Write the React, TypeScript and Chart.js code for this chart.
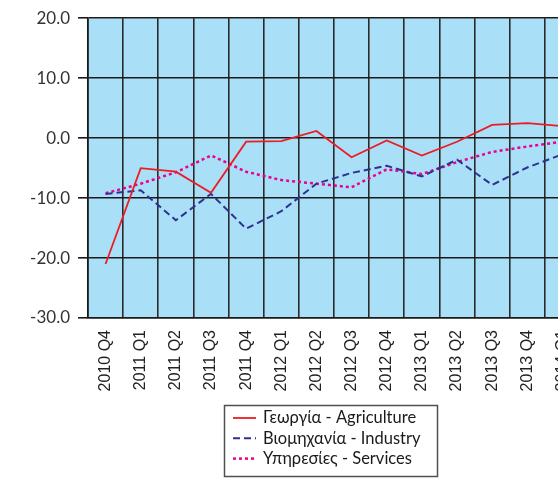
import React, { useEffect, useRef } from "react";
import { Chart, registerables } from "chart.js";

Chart.register(...registerables);

const categories = [
  "2010 Q4", "2011 Q1", "2011 Q2", "2011 Q3", "2011 Q4", "2012 Q1", "2012 Q2",
  "2012 Q3", "2012 Q4", "2013 Q1", "2013 Q2", "2013 Q3", "2013 Q4", "2014 Q1",
];
const agriculture = [-21.0, -5.0, -5.6, -9.1, -0.6, -0.5, 1.2, -3.2, -0.4, -2.9, -0.6, 2.2, 2.5, 2.0];
const industry = [-9.3, -8.7, -13.7, -9.3, -15.1, -12.2, -7.6, -5.8, -4.6, -6.4, -3.6, -7.8, -4.9, -2.7];
const services = [-9.2, -7.6, -5.7, -2.9, -5.6, -7.0, -7.6, -8.2, -5.2, -6.0, -4.0, -2.3, -1.4, -0.6];
const seriesLabels = ["Γεωργία - Agriculture", "Βιομηχανία - Industry", "Υπηρεσίες - Services"];

const CANVAS_W = 600;
const CANVAS_H = 479;

const bgPlugin = {
  id: "plotBg",
  beforeDraw(chart: any) {
    const { ctx, chartArea } = chart;
    ctx.save();
    ctx.fillStyle = "#aadff8";
    ctx.fillRect(chartArea.left, chartArea.top, chartArea.right - chartArea.left, chartArea.bottom - chartArea.top);
    ctx.restore();
  },
};

const legendPlugin = {
  id: "boxLegend",
  afterDraw(chart: any) {
    const { ctx } = chart;
    const boxX = 224.5, boxY = 405.5, boxW = 213, boxH = 71;
    ctx.save();
    ctx.strokeStyle = "#505050";
    ctx.lineWidth = 1.5;
    ctx.setLineDash([]);
    ctx.strokeRect(boxX, boxY, boxW, boxH);
    const rowY0 = 418;
    const rowGap = 20.3;
    chart.data.datasets.forEach((ds: any, i: number) => {
      const y = rowY0 + i * rowGap;
      ctx.beginPath();
      ctx.strokeStyle = ds.borderColor;
      ctx.lineWidth = ds.borderWidth;
      ctx.setLineDash(ds.borderDash || []);
      ctx.moveTo(233, y);
      ctx.lineTo(256, y);
      ctx.stroke();
      ctx.setLineDash([]);
      ctx.fillStyle = "#1a1a1a";
      ctx.font = "16.5px Lato";
      ctx.textBaseline = "middle";
      ctx.textAlign = "left";
      ctx.fillText(ds.label, 263, y);
    });
    ctx.restore();
  },
};

export default function App() {
  const ref = useRef<HTMLCanvasElement>(null);
  useEffect(() => {
    if (!ref.current) return;
    const chart = new Chart(ref.current, {
      type: "line",
      data: {
        labels: categories,
        datasets: [
          { label: seriesLabels[0], data: agriculture, borderColor: "#ed1c24", borderWidth: 1.8, pointRadius: 0, tension: 0, fill: false },
          { label: seriesLabels[1], data: industry, borderColor: "#2e3192", borderWidth: 2, borderDash: [7, 4], pointRadius: 0, tension: 0, fill: false },
          { label: seriesLabels[2], data: services, borderColor: "#ec008c", borderWidth: 2.5, borderDash: [3, 3], pointRadius: 0, tension: 0, fill: false },
        ],
      },
      options: {
        responsive: false,
        animation: false,
        layout: { padding: { top: 16, right: 20, left: 0, bottom: 0 } },
        plugins: { legend: { display: false }, tooltip: { enabled: false } },
        scales: {
          x: {
            offset: true,
            grid: { offset: true, color: "#2a2a2a", lineWidth: 1.6, drawTicks: false },
            border: { color: "#1a1a1a", width: 1.6 },
            ticks: {
              autoSkip: false,
              minRotation: 90,
              maxRotation: 90,
              padding: 12,
              color: "#222",
              font: { family: "Liberation Sans", size: 16 },
            },
            afterFit(scale: any) { scale.height = CANVAS_H - 318; },
          },
          y: {
            min: -30,
            max: 20,
            grid: { color: "#1a1a1a", lineWidth: 1.6, tickLength: 10 },
            border: { color: "#1a1a1a", width: 1.6 },
            ticks: {
              stepSize: 10,
              padding: 8,
              color: "#333",
              font: { family: "Lato", size: 17 },
              callback: (v: any) => Number(v).toFixed(1),
            },
            afterFit(scale: any) { scale.width = 88; },
          },
        },
      },
      plugins: [bgPlugin, legendPlugin],
    });
    return () => chart.destroy();
  }, []);
  return (
    <div style={{ position: "fixed", left: 0, top: 0, width: 558, height: 479, overflow: "hidden", background: "#fff" }}>
      <canvas ref={ref} width={CANVAS_W} height={CANVAS_H} style={{ width: CANVAS_W, height: CANVAS_H, display: "block" }} />
    </div>
  );
}
